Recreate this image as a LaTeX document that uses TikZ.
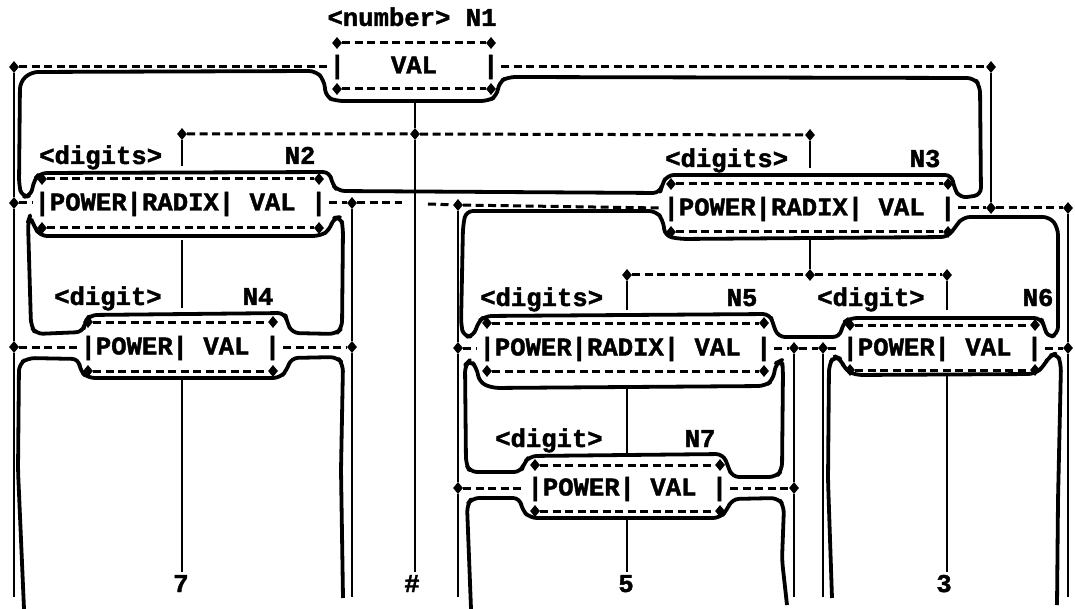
\documentclass[tikz,border=0pt]{standalone}
\usepackage{fontspec}
\setmonofont{Liberation Mono}
\newfontfamily\attmono{Liberation Mono}[BoldFeatures={FakeBold=1.6}]
\usepackage{tikz}
\usetikzlibrary{shapes.geometric, positioning, calc}
\newcommand{\attfont}{\attmono\bfseries\fontsize{25.6}{28}\selectfont}
\newcommand{\attbox}[5]{% name, left, right, top, bottom
  \node[knot] (#1tl) at (#2,#4) {};
  \node[knot] (#1tr) at (#3,#4) {};
  \node[knot] (#1bl) at (#2,#5) {};
  \node[knot] (#1br) at (#3,#5) {};
  \draw[dbar] (#1tl) -- (#1tr);
  \draw[dbar] (#1bl) -- (#1br);
}

\begin{document}
\begin{tikzpicture}[x=1pt, y=-1pt,
    knot/.style={diamond, fill=black, inner sep=0pt, minimum width=10pt, minimum height=12pt},
    dbar/.style={line width=3pt, dash pattern=on 8pt off 4.5pt},
    edge/.style={line width=1.4pt},
    hull/.style={line width=3.8pt, rounded corners=7pt, line join=round},
    lbl/.style={font=\attfont, inner sep=0pt, anchor=base west},
    tag/.style={font=\attfont, inner sep=0pt, anchor=base}]
  \useasboundingbox (0,0) rectangle (1075,609);

  % headers
  \node[tag] (h1) at (412,26) {<number> N1};
  \node[lbl] (h2) at (39,164) {<digits>};
  \node[tag] (h2n) at (300,164) {N2};
  \node[lbl] (h3) at (665,167) {<digits>};
  \node[tag] (h3n) at (925,167) {N3};
  \node[lbl] (h4) at (54,305) {<digit>};
  \node[tag] (h4n) at (258,305) {N4};
  \node[lbl] (h5) at (480,306) {<digits>};
  \node[tag] (h5n) at (742,306) {N5};
  \node[lbl] (h6) at (817,306) {<digit>};
  \node[tag] (h6n) at (1038,306) {N6};
  \node[lbl] (h7) at (495,447) {<digit>};
  \node[tag] (h7n) at (700,447) {N7};

  % attribute boxes
  \attbox{n1}{337}{491}{43}{89}
  \node[lbl] (n1row) at (329.3,73.5) {|~~~VAL~~~|};
  \attbox{n2}{42}{319}{179}{228}
  \node[lbl] (n2row) at (34.3,210.5) {|POWER|RADIX|~VAL~|};
  \attbox{n3}{671}{948}{184}{232}
  \node[lbl] (n3row) at (663.3,215.5) {|POWER|RADIX|~VAL~|};
  \attbox{n4}{88}{273}{322}{371}
  \node[lbl] (n4row) at (80.3,354.5) {|POWER|~VAL~|};
  \attbox{n5}{487}{764}{323}{371}
  \node[lbl] (n5row) at (479.3,355.5) {|POWER|RADIX|~VAL~|};
  \attbox{n6}{850}{1035}{325}{370}
  \node[lbl] (n6row) at (842.3,355.5) {|POWER|~VAL~|};
  \attbox{n7}{535}{720}{465}{511}
  \node[lbl] (n7row) at (527.3,495.5) {|POWER|~VAL~|};

  % column knots
  \node[knot] (k1a) at (14,67) {};
  \node[knot] (k1b) at (991,67) {};
  \node[knot] (k2a) at (14,203) {};
  \node[knot] (k2b) at (352,203) {};
  \node[knot] (k2c) at (458,205) {};
  \node[knot] (k3a) at (991,208) {};
  \node[knot] (k3b) at (1068,208) {};
  \node[knot] (k4a) at (14,347) {};
  \node[knot] (k4b) at (352,347) {};
  \node[knot] (k5a) at (458,348) {};
  \node[knot] (k5b) at (794,348) {};
  \node[knot] (k6a) at (823,348) {};
  \node[knot] (k6b) at (1068,348) {};
  \node[knot] (k7a) at (458,488) {};
  \node[knot] (k7b) at (794,488) {};
  \node[knot] (d1L) at (182,134) {};
  \node[knot] (d1M) at (415,134) {};
  \node[knot] (d1R) at (810,135) {};
  \node[knot] (d3L) at (627,275) {};
  \node[knot] (d3M) at (810,275) {};
  \node[knot] (d3R) at (947,275) {};

  % row links
  \draw[dbar] (k1a) -- (327,67);
  \draw[dbar] (501,67) -- (k1b);
  \draw[dbar] (k2a) -- (32,203);
  \draw[dbar] (329,203) -- (k2b) -- (402,203);
  \draw[dbar] (428,204) -- (k2c) -- (661,208);
  \draw[dbar] (958,208) -- (k3a) -- (k3b);
  \draw[dbar] (k4a) -- (78,347);
  \draw[dbar] (283,347) -- (k4b);
  \draw[dbar] (k5a) -- (477,348);
  \draw[dbar] (774,348) -- (k5b) -- (k6a) -- (840,348);
  \draw[dbar] (1045,348) -- (k6b);
  \draw[dbar] (k7a) -- (525,488);
  \draw[dbar] (730,488) -- (k7b);
  \draw[dbar] (d1L) -- (d1M) -- (d1R);
  \draw[dbar] (d3L) -- (d3M) -- (d3R);

  % columns
  \draw[edge] (k1a) -- (k2a) -- (k4a) -- (14,597);
  \draw[edge] (k2b) -- (k4b) -- (352,597);
  \draw[edge] (k2c) -- (k5a) -- (k7a) -- (458,597);
  \draw[edge] (k5b) -- (k7b) -- (794,597);
  \draw[edge] (k6a) -- (823,597);
  \draw[edge] (k1b) -- (k3a);
  \draw[edge] (k3b) -- (k6b) -- (1068,597);

  % tree edges
  \coordinate (v1a) at (415,101);
  \coordinate (v1e) at (415,572);
  \coordinate (v2a) at (182,166);
  \coordinate (v2b) at (182,240);
  \coordinate (v2c) at (182,308);
  \coordinate (v2d) at (182,380);
  \coordinate (v2e) at (182,572);
  \coordinate (v3a) at (810,168);
  \coordinate (v3b) at (810,240);
  \coordinate (v5a) at (627,310);
  \coordinate (v5b) at (627,388);
  \coordinate (v5c) at (627,455);
  \coordinate (v5d) at (627,519);
  \coordinate (v5e) at (627,572);
  \coordinate (v6a) at (947,310);
  \coordinate (v6b) at (947,376);
  \coordinate (v6e) at (947,572);
  \draw[edge] (v1a) -- (d1M) -- (v1e);
  \draw[edge] (d1L) -- (v2a);
  \draw[edge] (v2b) -- (v2c);
  \draw[edge] (v2d) -- (v2e);
  \draw[edge] (d1R) -- (v3a);
  \draw[edge] (v3b) -- (d3M);
  \draw[edge] (d3L) -- (v5a);
  \draw[edge] (v5b) -- (v5c);
  \draw[edge] (v5d) -- (v5e);
  \draw[edge] (d3R) -- (v6a);
  \draw[edge] (v6b) -- (v6e);

  % leaves
  \node[tag] (t7) at (181,592) {7};
  \node[tag] (tsh) at (412,592) {\#};
  \node[tag] (t5) at (626,592) {5};
  \node[tag] (t3) at (944,592) {3};

  % region outlines
  \draw[hull] (31,72) -- (316,71) -- (324,80) -- (326,97) -- (336,101) -- (488,101) -- (497,96)
    -- (499,82) -- (508,77) -- (974,78) -- (980,86) -- (981,195) -- (960,198) -- (954,188)
    -- (952,175) -- (667,175) -- (662,185) -- (660,193) -- (338,191) -- (332,184) -- (330,172)
    -- (40,173) -- (34,180) -- (31,196) -- (22,197) -- (19,185) -- (20,82) -- cycle;
  \draw[hull] (30,216) -- (34,226) -- (40,236) -- (320,236) -- (330,230) -- (333,218) -- (341,217)
    -- (343,228) -- (342,328) -- (336,334) -- (292,333) -- (287,322) -- (285,313) -- (90,315)
    -- (85,322) -- (83,332) -- (36,334) -- (31,326) -- (28,222) -- cycle;
  \draw[hull] (463,226) -- (466,211) -- (656,211) -- (663,220) -- (665,236) -- (680,239) -- (948,237)
    -- (956,226) -- (963,217) -- (1050,217) -- (1058,228) -- (1058,334) -- (1048,338) -- (1044,326)
    -- (1041,318) -- (850,318) -- (843,323) -- (840,337) -- (778,337) -- (773,324) -- (770,314)
    -- (485,316) -- (478,322) -- (474,336) -- (464,337) -- (461,325) -- cycle;
  \draw[hull] (470,360) -- (477,368) -- (479,382) -- (492,388) -- (765,386) -- (773,380) -- (776,363)
    -- (782,360) -- (783,370) -- (782,470) -- (776,477) -- (732,477) -- (728,466) -- (723,454)
    -- (530,456) -- (524,463) -- (521,472) -- (470,472) -- (466,464) -- (465,365) -- cycle;
  \draw[hull] (24,609) -- (18,470) -- (19,364) -- (28,358) -- (79,359) -- (80,371) -- (88,378)
    -- (280,378) -- (287,370) -- (291,358) -- (337,357) -- (343,364) -- (341,470) -- (343,598);
  \draw[hull] (471,609) -- (467,505) -- (472,498) -- (520,498) -- (522,510) -- (530,518) -- (720,518)
    -- (727,510) -- (732,499) -- (778,498) -- (784,506) -- (782,560) -- (787,605);
  \draw[hull] (832,598) -- (828,480) -- (829,365) -- (834,356) -- (841,359) -- (845,370) -- (855,375)
    -- (1035,374) -- (1044,366) -- (1049,356) -- (1057,353) -- (1061,364) -- (1058,500) -- (1057,605);
\end{tikzpicture}
\end{document}
